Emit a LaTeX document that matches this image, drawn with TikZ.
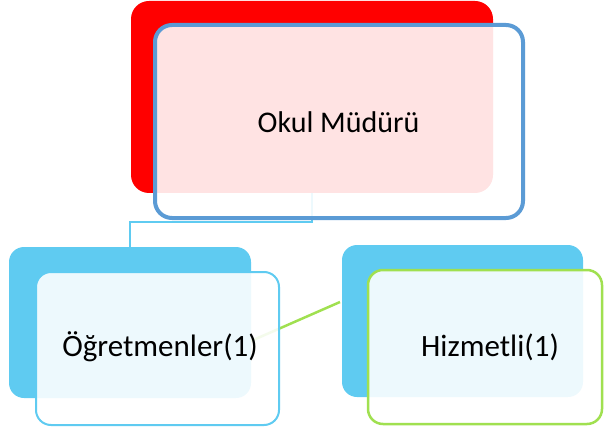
\documentclass[tikz,border=0pt]{standalone}
\usepackage{fontspec}
\setmainfont{Carlito}
\usetikzlibrary{backgrounds}
\definecolor{cRed}{HTML}{FF0000}
\definecolor{cSky}{HTML}{5FCBF1}
\definecolor{cSteel}{HTML}{5B9BD5}
\definecolor{cGreen}{HTML}{A0E050}
\begin{document}
\begin{tikzpicture}[x=1pt,y=-1pt,
  backbox/.style={rounded corners=18pt, inner sep=0pt, draw=none},
  frontbox/.style={rounded corners=17pt, inner sep=0pt, fill=white, fill opacity=0.89},
  lbl/.style={anchor=base, inner sep=0pt, text=black}]
\useasboundingbox (0,0) rectangle (604,430);
\coordinate (j1) at (312,222);
\coordinate (j2) at (130,222);
\coordinate (g1) at (251,341);
\coordinate (g2) at (340,302);
% back boxes
\node[backbox, fill=cRed, minimum width=362pt, minimum height=192pt] (tb) at (312,97) {};
\node[backbox, fill=cSky, minimum width=242pt, minimum height=151pt, rounded corners=15pt] (lb) at (130,322.5) {};
\node[backbox, fill=cSky, minimum width=241pt, minimum height=152pt, rounded corners=15pt] (rb) at (462.5,321) {};
% connectors behind
\begin{scope}[on background layer]
\draw[cSky, line width=2pt] (tb.south) -- (j1) -- (j2) -- (lb.north);
\draw[cGreen, line width=2.5pt] (g1) -- (g2);
\end{scope}
% front boxes
\node[frontbox, draw=cSteel, draw opacity=1, line width=4pt, minimum width=368pt, minimum height=193pt] (tf) at (339,121.5) {};
\node[frontbox, draw=cSky, draw opacity=1, line width=2pt, minimum width=243pt, minimum height=153pt, rounded corners=15pt] (lf) at (157.5,348.5) {};
\node[frontbox, draw=cGreen, draw opacity=1, line width=2.5pt, minimum width=234pt, minimum height=154pt, rounded corners=15pt] (rf) at (485,347) {};
% labels
\node[lbl, font=\fontsize{30}{36}\selectfont] (tt) at (338.5,133) {Okul Müdürü};
\node[lbl, font=\fontsize{31}{37}\selectfont] (lt) at (160,356.7) {Öğretmenler(1)};
\node[lbl, font=\fontsize{31}{37}\selectfont] (rt) at (490,356.7) {Hizmetli(1)};
\end{tikzpicture}
\end{document}
